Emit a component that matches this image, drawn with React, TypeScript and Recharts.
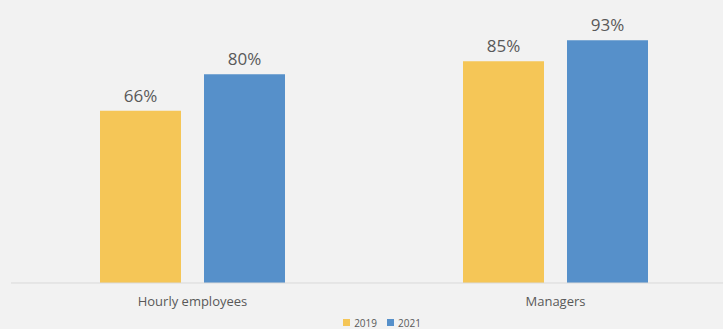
import React from "react";
import { BarChart, Bar, XAxis, YAxis, LabelList, Legend } from "recharts";

const categories = ["Hourly employees", "Managers"];
const values2019 = [66, 85];
const values2021 = [80, 93];

const data = categories.map((name, i) => ({
  name,
  y2019: values2019[i],
  y2021: values2021[i],
}));

const fmt = (v: any) => `${v}%`;

const App = () => {
  return (
    <div
      style={{
        position: "fixed",
        left: 0,
        top: 0,
        width: 723,
        height: 329,
        overflow: "hidden",
        background: "#f2f2f2",
        fontFamily: "'Open Sans', sans-serif",
      }}
    >
      <BarChart
        width={740}
        height={329}
        data={data}
        margin={{ top: 22, right: 3, left: 11, bottom: 2 }}
        barCategoryGap={89}
        barGap={23}
        style={{ overflow: "visible" }}
      >
        <XAxis
          dataKey="name"
          axisLine={{ stroke: "#d9d9d9", strokeWidth: 1 }}
          tickLine={false}
          tick={{ fill: "#595959", fontSize: 13 }}
          tickMargin={8}
        />
        <YAxis hide domain={[0, 100]} />
        <Legend
          verticalAlign="bottom"
          iconType="square"
          iconSize={7}
          formatter={(v: string) => (
            <span style={{ color: "#595959", fontSize: 10 }}>{v}</span>
          )}
          wrapperStyle={{ left: 342, width: 90, bottom: 0, lineHeight: "12px" }}
        />
        <Bar dataKey="y2019" name="2019" fill="#f5c657" isAnimationActive={false}>
          <LabelList dataKey="y2019" position="top" offset={9} formatter={fmt} fill="#595959" fontSize={17} />
        </Bar>
        <Bar dataKey="y2021" name="2021" fill="#5690ca" isAnimationActive={false}>
          <LabelList dataKey="y2021" position="top" offset={9} formatter={fmt} fill="#595959" fontSize={17} />
        </Bar>
      </BarChart>
    </div>
  );
};

export default App;
